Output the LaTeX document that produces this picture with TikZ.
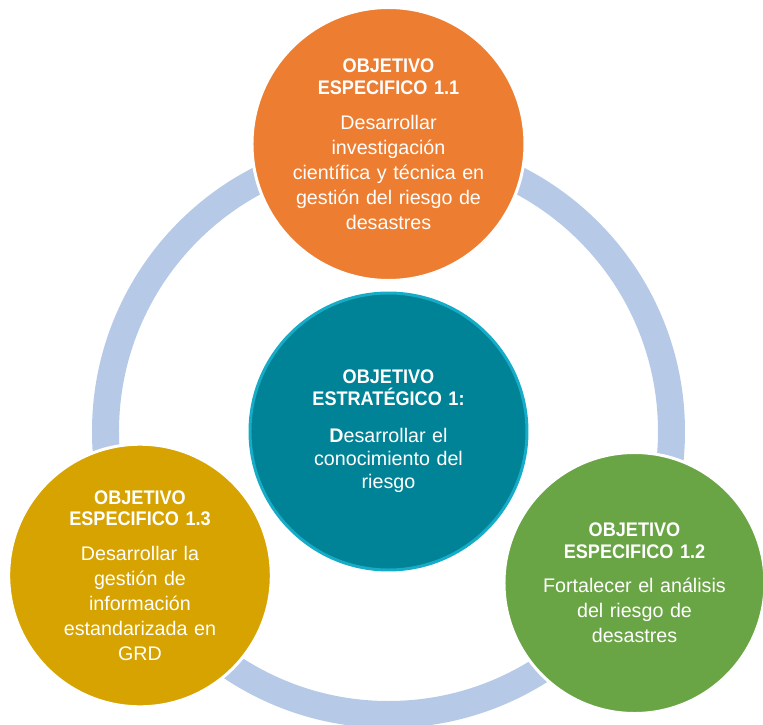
\documentclass[tikz,border=0pt]{standalone}
\usepackage{fontspec}
\setmainfont{Liberation Sans}
\newfontfamily\narrowbold[FakeStretch=0.92]{Liberation Sans}
\newcommand{\titulo}[1]{{\narrowbold\bfseries #1}}

\definecolor{naranja}{RGB}{237,125,49}
\definecolor{petroleo}{RGB}{0,131,150}
\definecolor{celeste}{RGB}{22,172,200}
\definecolor{dorado}{RGB}{214,163,0}
\definecolor{verde}{RGB}{106,165,69}
\definecolor{anillo}{RGB}{182,202,232}

\begin{document}
\begin{tikzpicture}[node distance=5.75cm, auto]
        % Define block styles
        \tikzstyle{goal} = [circle, draw=white, line width=1.7pt, text=white,
            text width=4cm, text centered, inner sep=0pt, font=\fontsize{11.2}{14.2}\selectfont]
        \tikzstyle{main} = [goal, fill=petroleo, draw=celeste, minimum size=5.54cm,
            font=\fontsize{11.2}{13.1}\selectfont]
        \tikzstyle{sub} = [goal, minimum size=5.22cm]
        \tikzstyle{ring} = [draw=anillo, line width=0.54cm]

        \useasboundingbox (-7.77,-5.85) rectangle (7.49,8.63);

        % Nodes
        \node [main] (obj1) {\titulo{OBJETIVO}\\[-0.6pt]\titulo{ESTRATÉGICO 1:}\\[7.9pt]
            \textbf{D}esarrollar el\\conocimiento del\\riesgo};

        % Ring
        \draw [ring] (obj1) circle (5.66cm);

        \node [sub, fill=naranja, above of=obj1, minimum size=5.46cm] (obj11)
            {\titulo{OBJETIVO}\\[-1.7pt]\titulo{ESPECIFICO 1.1}\\[5.7pt]
            Desarrollar\\investigación\\científica y técnica en\\gestión del riesgo de\\desastres};
        \node [sub, fill=verde, below of=obj1, node distance=3.03cm, xshift=4.92cm] (obj12)
            {\titulo{OBJETIVO}\\[-1.7pt]\titulo{ESPECIFICO 1.2}\\[5.2pt]
            Fortalecer el análisis\\del riesgo de\\desastres};
        \node [sub, fill=dorado, below of=obj1, node distance=2.88cm, xshift=-4.97cm] (obj13)
            {\titulo{OBJETIVO}\\[-2.2pt]\titulo{ESPECIFICO 1.3}\\[5.7pt]
            Desarrollar la\\gestión de\\información\\estandarizada en\\GRD};
    \end{tikzpicture}
\end{document}
